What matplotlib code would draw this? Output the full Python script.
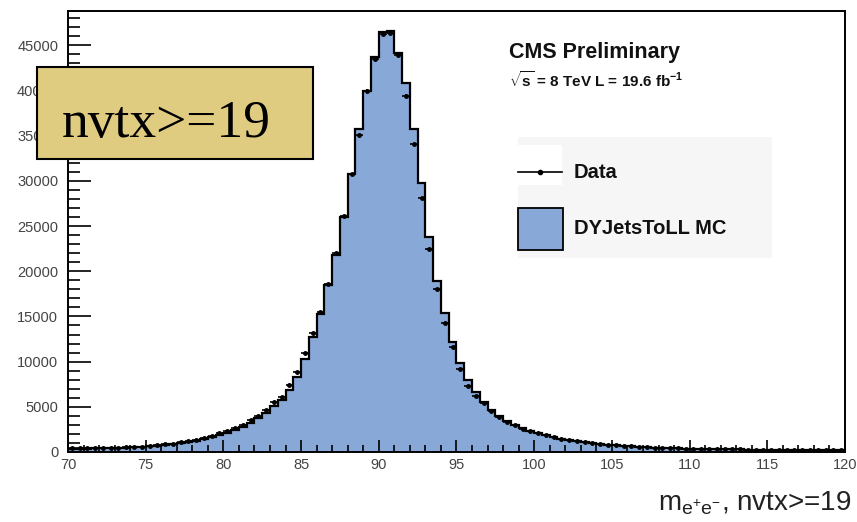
import numpy as np
import matplotlib.pyplot as plt
from matplotlib.patches import Rectangle
from matplotlib.lines import Line2D

plt.rcParams['font.family'] = ['Liberation Sans', 'DejaVu Sans']
plt.rcParams['mathtext.fontset'] = 'custom'
plt.rcParams['mathtext.rm'] = 'Liberation Sans'
plt.rcParams['mathtext.bf'] = 'Liberation Sans:bold'

# Z peak, 0.5 GeV bins from 70 to 120
bin_edges = np.arange(70, 120.5, 0.5)

mc_counts = [
    360, 370, 380, 390, 400, 420, 440, 465, 500, 550,
    610, 680, 760, 860, 980, 1110, 1270, 1450, 1660, 1900,
    2150, 2450, 2800, 3240, 3720, 4350, 5090, 5750, 6860, 8330,
    10250, 12750, 15260, 18460, 21780, 26020, 30740, 35710, 39950, 43710,
    46450, 46550, 44150, 40830, 35710, 29800, 23840, 18920, 15370, 12190,
    9860, 8020, 6620, 5480, 4640, 4000, 3450, 3000, 2650, 2350,
    2080, 1850, 1650, 1480, 1330, 1200, 1080, 980, 890, 810,
    740, 680, 620, 570, 520, 480, 445, 415, 390, 370,
    350, 335, 320, 310, 300, 290, 280, 270, 265, 258,
    250, 245, 240, 235, 230, 225, 220, 215, 210, 205,
]

data_counts = [
    430, 410, 400, 420, 440, 450, 480, 510, 550, 600,
    670, 750, 830, 940, 1060, 1200, 1370, 1570, 1790, 2050,
    2350, 2650, 3000, 3500, 4000, 4700, 5530, 6110, 7410, 8880,
    10980, 13160, 15510, 18580, 22000, 26090, 30740, 35050, 39920, 43450,
    46250, 46350, 43900, 39400, 34050, 28080, 22450, 18020, 14260, 11610,
    9180, 7350, 6190, 5400, 4500, 3900, 3350, 2950, 2600, 2300,
    2050, 1830, 1640, 1470, 1330, 1200, 1080, 980, 890, 810,
    740, 680, 625, 575, 525, 485, 450, 420, 395, 375,
    355, 340, 325, 315, 300, 290, 285, 275, 265, 260,
    255, 245, 240, 235, 232, 225, 220, 215, 210, 205,
]

mc_color = '#88a8d8'
centers = 0.5 * (bin_edges[:-1] + bin_edges[1:])

fig = plt.figure(figsize=(8.57, 5.22), dpi=100)
ax = fig.add_axes([0.0793, 0.1341, 0.9067, 0.8448])

ax.stairs(mc_counts, bin_edges, fill=True, color=mc_color, zorder=1)
ax.stairs(mc_counts, bin_edges, color='black', linewidth=1.6, zorder=2)
ax.errorbar(centers, data_counts, xerr=0.25, yerr=np.sqrt(data_counts),
            fmt='o', color='black', markersize=2.5, elinewidth=1.2,
            capsize=0, zorder=3)

ax.set_xlim(70, 120)
ax.set_ylim(0, 48800)
ax.set_xticks(np.arange(70, 121, 5))
ax.set_xticks(np.arange(70, 121, 1), minor=True)
ax.set_yticks(np.arange(0, 48000, 5000))
ax.set_yticks(np.arange(0, 48800, 1000), minor=True)
ax.tick_params(axis='both', which='both', direction='in', width=1.2,
               colors='black', labelcolor='#444444', labelsize=10.5)
ax.tick_params(axis='y', which='major', length=16.5, pad=7)
ax.tick_params(axis='y', which='minor', length=8.5)
ax.tick_params(axis='x', which='major', length=8.5, pad=4)
ax.tick_params(axis='x', which='minor', length=5)
for sp in ax.spines.values():
    sp.set_linewidth(1.4)

ax.text(0.5676, 0.907, 'CMS Preliminary', transform=ax.transAxes,
        fontsize=15.5, fontweight='bold', va='center', color='#111111')
ax.text(0.5676, 0.8435, r'$\sqrt{\mathbf{s}}$ = 8 TeV L = 19.6 fb$^{\mathbf{-1}}$',
        transform=ax.transAxes, fontsize=11, fontweight='bold', va='center',
        color='#111111')

# legend panel drawn by hand
ax.add_patch(Rectangle((0.579, 0.44), 0.3269, 0.2744, transform=ax.transAxes,
                       facecolor='#f6f6f6', edgecolor='none', zorder=4))
ax.add_patch(Rectangle((0.579, 0.6054), 0.0566, 0.0907, transform=ax.transAxes,
                       facecolor='white', edgecolor='none', zorder=4))
ax.add_line(Line2D([0.579, 0.6356], [0.6349, 0.6349], transform=ax.transAxes,
                   color='black', linewidth=1.2, zorder=5))
ax.add_line(Line2D([0.6075], [0.6349], transform=ax.transAxes, color='black',
                   marker='o', markersize=3, zorder=5))
ax.add_patch(Rectangle((0.579, 0.458), 0.0579, 0.0952, transform=ax.transAxes,
                       facecolor=mc_color, edgecolor='black', linewidth=1.3,
                       zorder=5))
ax.text(0.6512, 0.6349, 'Data', transform=ax.transAxes, fontsize=14.5,
        fontweight='bold', va='center', color='#111111', zorder=6)
ax.text(0.6512, 0.5057, 'DYJetsToLL MC', transform=ax.transAxes, fontsize=14.5,
        fontweight='bold', va='center', color='#111111', zorder=6)

fig.text(0.994, 0.023, r'm$_{\mathregular{e^{+}e^{-}}}$, nvtx>=19', ha='right',
         va='baseline', fontsize=20, color='#222222')

fig.patches.append(Rectangle((0.0432, 0.6954), 0.322, 0.176,
                             transform=fig.transFigure, facecolor='#dfcc80',
                             edgecolor='black', linewidth=1.5, zorder=5))
fig.text(0.0723, 0.7375, 'nvtx>=19', ha='left', va='baseline', fontsize=38.5,
         family='Liberation Serif', color='black', zorder=6)

fig.savefig('out.png', dpi=100)
